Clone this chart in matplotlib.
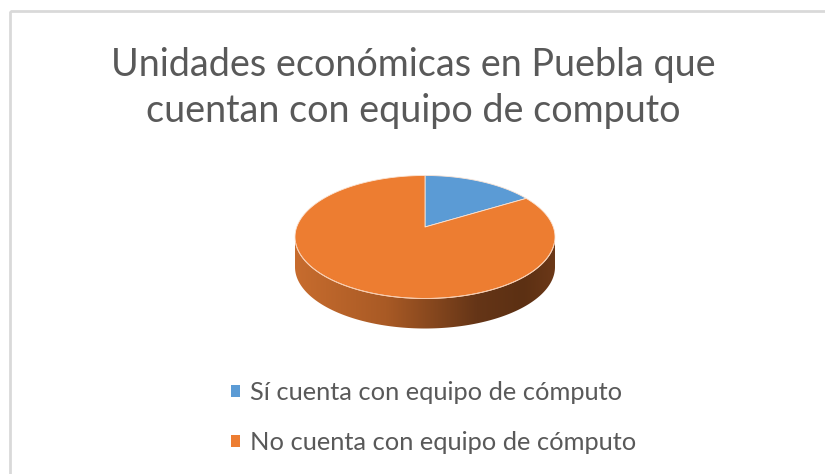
import numpy as np
import matplotlib
matplotlib.use('Agg')
import matplotlib.pyplot as plt
from matplotlib.patches import Polygon, Rectangle, Patch
from matplotlib.colors import LinearSegmentedColormap

#%% Data
labels = ['Sí cuenta con equipo de cómputo', 'No cuenta con equipo de cómputo']
values = [14.2, 85.8]
colors = ['#5B9BD5', '#ED7D31']
title = 'Unidades económicas en Puebla que\ncuentan con equipo de computo'

#%% Layout (pixels)
W, H = 825, 474
cx, cy = 425, 237      # centre of the top face
rx, ry = 130, 61.5     # radii of the top face
apex_dy = -10          # perspective: slice apex sits a bit above the ellipse centre
depth = 30
textcol = '#595959'

plt.rcParams['font.family'] = ['Lato', 'DejaVu Sans']

fig = plt.figure(figsize=(W / 100, H / 100), dpi=100)
ax = fig.add_axes([0, 0, 1, 1])

def pt(t, dy=0):
    t = np.radians(t)
    return np.column_stack([cx + rx * np.cos(t), cy - ry * np.sin(t) + dy])

### Side band with a horizontal gradient
t_front = np.linspace(180, 360, 200)
side = np.vstack([pt(t_front), pt(t_front[::-1], depth)])
side_patch = Polygon(side, closed=True, facecolor='none', edgecolor='none')
ax.add_patch(side_patch)
cmap = LinearSegmentedColormap.from_list('side', [
    (0.0, '#c76c2e'), (0.35, '#a95a25'), (0.7, '#653517'),
    (0.88, '#5c3013'), (1.0, '#6b3818')])
grad = np.linspace(0, 1, 256)[None, :]
im = ax.imshow(grad, cmap=cmap, aspect='auto', interpolation='bilinear',
               extent=(cx - rx, cx + rx, cy + ry + depth + 2, cy - 2))
im.set_clip_path(side_patch)

### Top face: slices from the values, clockwise from 12 o'clock
apex = np.array([[cx, cy + apex_dy]])
start = 90.0
for v, c in zip(values, colors):
    sweep = 360 * v / sum(values)
    t = np.linspace(start, start - sweep, max(int(sweep), 2) * 2)
    poly = np.vstack([apex, pt(t)])
    ax.add_patch(Polygon(poly, closed=True, facecolor=c, edgecolor='#fbe5d6',
                         linewidth=0.6, joinstyle='round'))
    start -= sweep

### Light rim along the front edge of the top
rim = pt(np.linspace(185, 355, 200))
ax.plot(rim[:, 0], rim[:, 1], color='#f8cbad', lw=0.7)

### Chart border (only top/left visible)
ax.add_patch(Rectangle((10, 11), W + 20, H + 20, facecolor='none',
                       edgecolor='#d9d9d9', lw=2))

### Title
ax.text(413, 88, title, ha='center', va='center', fontsize=27.2,
        color=textcol, linespacing=1.36)

### Legend
handles = [Patch(facecolor=c, edgecolor='none') for c in colors]
leg = ax.legend(handles, labels, loc='upper left', bbox_to_anchor=(231, 381),
                bbox_transform=ax.transData, frameon=False, fontsize=18.3,
                handlelength=0.35, handleheight=0.35, handletextpad=0.4,
                labelspacing=1.06, borderpad=0, borderaxespad=0)
for txt in leg.get_texts():
    txt.set_color(textcol)

ax.set_xlim(0, W)
ax.set_ylim(H, 0)
ax.axis('off')
fig.savefig('out.png', dpi=100)
